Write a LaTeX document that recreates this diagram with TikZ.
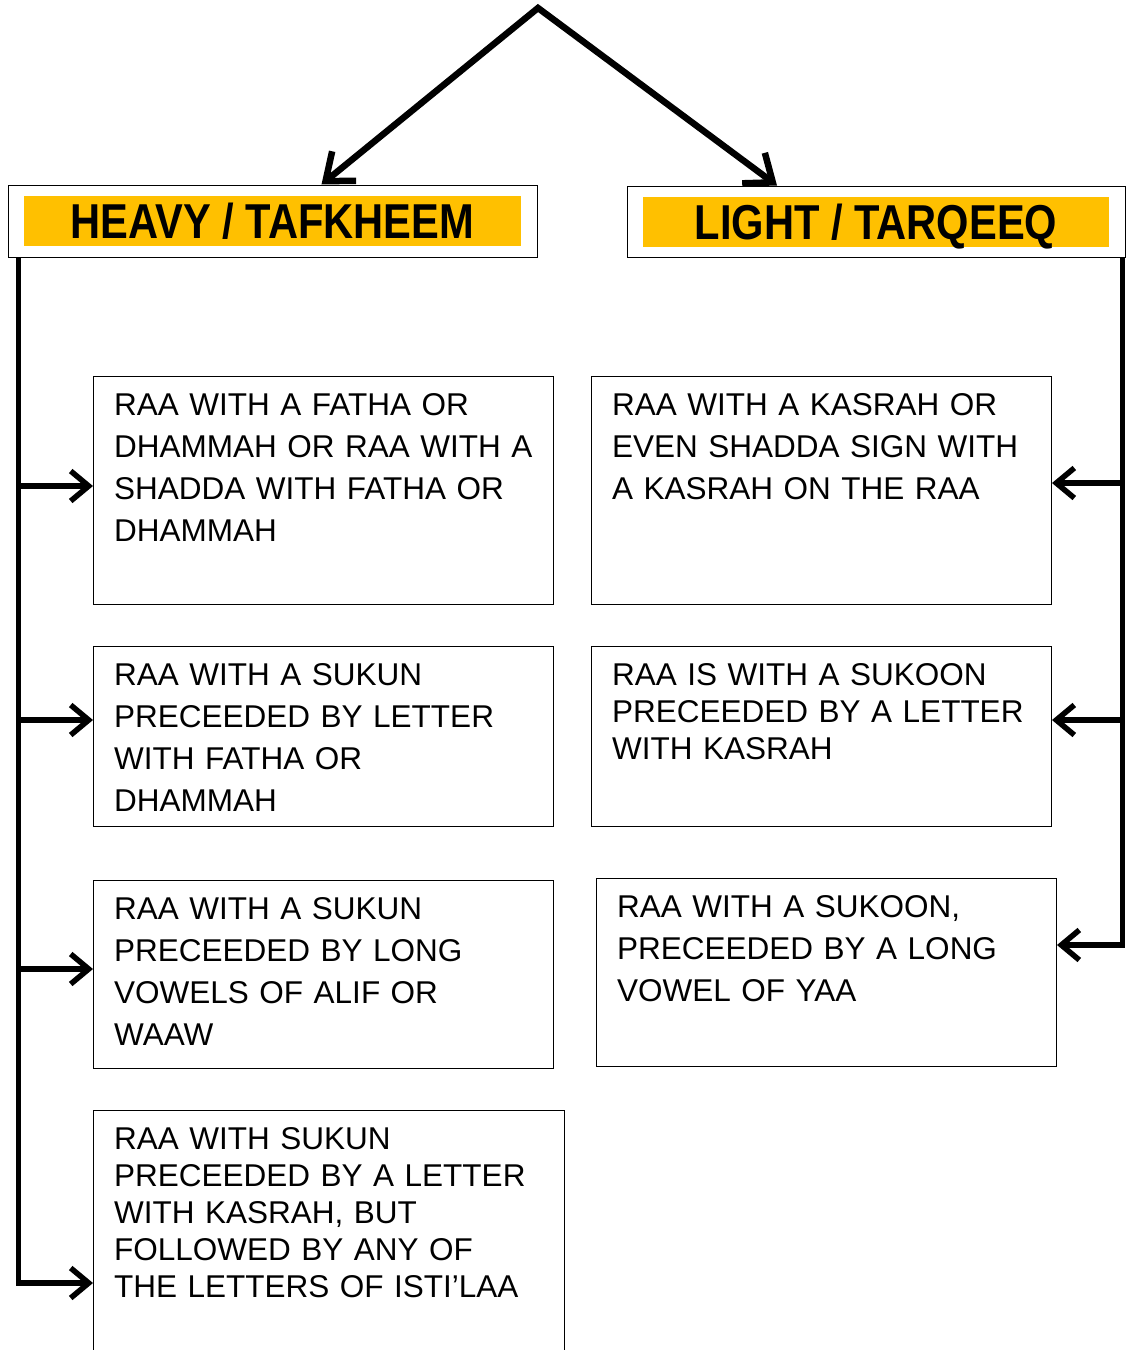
\documentclass[tikz,border=0pt]{standalone}
\usepackage{fontspec}
\setmainfont{Liberation Sans}
\usetikzlibrary{arrows.meta,positioning}
\definecolor{tagyellow}{RGB}{255,192,0}

\begin{document}
\begin{tikzpicture}[
      x=1pt, y=-1pt,
      font=\fontsize{31.5}{42.3}\selectfont,
      hdr/.style={draw=black, line width=1pt, fill=white, inner sep=0pt},
      tag/.style={fill=tagyellow, inner sep=0pt, minimum height=50pt,
                  text height=35pt, text depth=0pt,
                  font=\fontsize{49}{49}\selectfont\bfseries},
      box/.style={draw=black, line width=1.2pt, anchor=north west,
                  minimum width=460pt, inner sep=0pt},
      txt/.style={anchor=base west, text width=450pt, align=left, inner sep=0pt},
      tight/.style={font=\fontsize{31.5}{37}\selectfont},
      flow/.style={draw=black, line width=5.5pt,
                   -{Straight Barb[length=18pt,width=30pt]}},
      split/.style={draw=black, line width=6.5pt, miter limit=20,
                    {Straight Barb[length=24pt,width=38pt]}-{Straight Barb[length=24pt,width=38pt]}}
    ]
    \useasboundingbox (0,0) rectangle (1126,1350);

    % Headings.
    \node[hdr, minimum width=529pt, minimum height=72pt] (heavy) at (272.5,221) {};
    \node[tag, minimum width=497pt] (heavytag) at (heavy) {\scalebox{0.85}[1]{HEAVY / TAFKHEEM}};
    \node[hdr, minimum width=498pt, minimum height=71pt] (light) at (876,221.5) {};
    \node[tag, minimum width=466pt] (lighttag) at (light) {\scalebox{0.85}[1]{LIGHT / TARQEEQ}};
    \coordinate (apex) at (538,8);
    \draw[split] ([xshift=49pt]heavy.north) -- (apex) -- ([xshift=-99pt]light.north);

    % Heavy cases.
    \node[box, minimum height=228pt] (lb1) at (93,376) {};
    \node[txt] (lt1) at ([shift={(21,39)}]lb1.north west)
      {RAA WITH A FATHA OR\\DHAMMAH OR RAA WITH A\\SHADDA WITH FATHA OR\\DHAMMAH};
    \node[box, minimum height=180pt] (lb2) at (93,646) {};
    \node[txt] (lt2) at ([shift={(21,39)}]lb2.north west)
      {RAA WITH A SUKUN\\PRECEEDED BY LETTER\\WITH FATHA OR\\DHAMMAH};
    \node[box, minimum height=188pt] (lb3) at (93,880) {};
    \node[txt] (lt3) at ([shift={(21,39)}]lb3.north west)
      {RAA WITH A SUKUN\\PRECEEDED BY LONG\\VOWELS OF ALIF OR\\WAAW};
    \node[box, minimum width=471pt, minimum height=260pt] (lb4) at (93,1110) {};
    \node[txt, tight] (lt4) at ([shift={(21,39)}]lb4.north west)
      {RAA WITH SUKUN\\PRECEEDED BY A LETTER\\WITH KASRAH, BUT\\FOLLOWED BY ANY OF\\THE LETTERS OF ISTI’LAA};

    % Light cases.
    \node[box, minimum height=228pt] (rb1) at (591,376) {};
    \node[txt] (rt1) at ([shift={(21,39)}]rb1.north west)
      {RAA WITH A KASRAH OR\\EVEN SHADDA SIGN WITH\\A KASRAH ON THE RAA};
    \node[box, minimum height=180pt] (rb2) at (591,646) {};
    \node[txt, tight] (rt2) at ([shift={(21,39)}]rb2.north west)
      {RAA IS WITH A SUKOON\\PRECEEDED BY A LETTER\\WITH KASRAH};
    \node[box, minimum height=188pt] (rb3) at (596,878) {};
    \node[txt] (rt3) at ([shift={(21,39)}]rb3.north west)
      {RAA WITH A SUKOON,\\PRECEEDED BY A LONG\\VOWEL OF YAA};

    % Connectors.
    \coordinate (ltop) at ([xshift=11pt]heavy.south west);
    \coordinate (la1) at (93,486);
    \coordinate (la2) at (93,720);
    \coordinate (la3) at (93,969);
    \coordinate (la4) at (93,1283);
    \draw[flow] (ltop) |- (la4);
    \foreach \n in {1,2,3}
      \draw[flow] (la\n -| ltop) -- (la\n);

    \coordinate (rtop) at ([xshift=-3pt]light.south east);
    \coordinate (ra1) at (1052,483);
    \coordinate (ra2) at (1052,720);
    \coordinate (ra3) at (1057,945);
    \draw[flow] (rtop) |- (ra3);
    \foreach \n in {1,2}
      \draw[flow] (ra\n -| rtop) -- (ra\n);
  \end{tikzpicture}
\end{document}
